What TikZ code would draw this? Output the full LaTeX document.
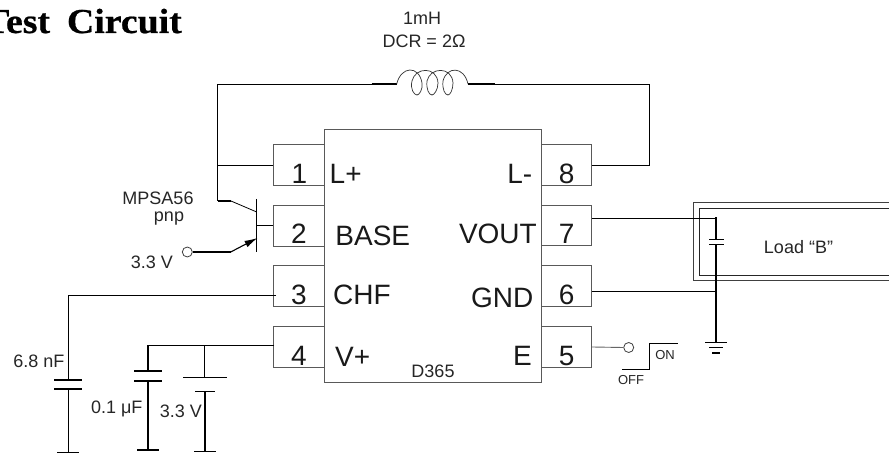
\documentclass[tikz,border=0pt]{standalone}
\usepackage{fontspec}
\setmainfont{Liberation Sans}
\newfontfamily\titlefont[FakeStretch=1.08,FakeBold=0.6]{Liberation Serif}
\usetikzlibrary{arrows.meta}
\newcommand{\fsz}[1]{\fontsize{#1}{#1}\selectfont}
\begin{document}
\begin{tikzpicture}[x=1pt,y=-1pt,line join=miter,
  wire/.style={draw=black,line width=0.8pt},
  heavy/.style={draw=black,line width=1.7pt},
  pinbox/.style={draw=black!65,line width=1pt,minimum width=50.5pt,minimum height=40.5pt,inner sep=0pt},
  chip/.style={draw=black!65,line width=1pt,inner sep=0pt,minimum width=217pt,minimum height=252pt},
  pinnum/.style={inner sep=0pt,font=\fsz{28},text=black!90},
  pinname/.style={inner sep=0pt,font=\fsz{28},text=black!90},
  lab/.style={inner sep=0pt,font=\fsz{18},text=black!85},
  tiny/.style={inner sep=0pt,font=\fsz{13},text=black!85},
  open/.style={circle,draw=black!75,line width=0.8pt,fill=white,minimum size=10pt,inner sep=0pt}]
\clip (0,0) rectangle (889,454);
\fill[white] (0,0) rectangle (889,454);

% title
\node[anchor=base east,inner sep=0pt,font=\titlefont\bfseries\fsz{35}] (title) at (182,33) {Test\hspace{7.5pt} Circuit};

% chip and pins
\node[chip] (ic) at (432.5,256) {};
\node[pinbox] (p1) at (299,165) {};
\node[pinbox] (p2) at (299,225.8) {};
\node[pinbox] (p3) at (299,286) {};
\node[pinbox] (p4) at (299,347) {};
\node[pinbox] (p8) at (566.4,165) {};
\node[pinbox] (p7) at (566.4,225.7) {};
\node[pinbox] (p6) at (566.4,286) {};
\node[pinbox] (p5) at (566.4,347) {};
\node[pinnum] (n1) at (299.3,173.7) {1};
\node[pinnum] (n2) at (299,233.5) {2};
\node[pinnum] (n3) at (299,294.5) {3};
\node[pinnum] (n4) at (299,355.5) {4};
\node[pinnum] (n8) at (566.6,173.7) {8};
\node[pinnum] (n7) at (566.6,233.7) {7};
\node[pinnum] (n6) at (566.6,294.5) {6};
\node[pinnum] (n5) at (566.6,355.8) {5};
\node[pinname,anchor=west] (lp) at (329.5,173.7) {L+};
\node[pinname,anchor=west] (base) at (335.2,236.3) {BASE};
\node[pinname,anchor=west] (chf) at (333,294.5) {CHF};
\node[pinname,anchor=west] (vp) at (335,357) {V+};
\node[pinname,anchor=east] (lm) at (532.5,173.7) {L-};
\node[pinname,anchor=east] (vout) at (537,233.7) {VOUT};
\node[pinname,anchor=east] (gnd) at (533.5,297.5) {GND};
\node[pinname,anchor=east] (en) at (532,355.7) {E};
\node[inner sep=0pt,font=\fsz{18},text=black!85] (d365) at (433,371.3) {D365};

% inductor
\coordinate (la) at (217.5,84);
\coordinate (lb) at (371.7,84);
\coordinate (lc) at (396.7,84);
\coordinate (ld) at (468,84);
\coordinate (le) at (495,84);
\coordinate (lf) at (649,84);
\draw[wire] (p1.west) -- (217.5,165);
\draw[wire] (217.5,201) -- (la) -- (lb);
\draw[heavy] (lb) -- (lc);
\draw[wire,line width=0.7pt,black!80] (lc)
  .. controls (401,66) and (419,65) .. (422,83)
  .. controls (423,90) and (419,95) .. (417,95)
  .. controls (414,95) and (410,89) .. (412,81)
  .. controls (415,67) and (437,66) .. (438,83)
  .. controls (438,90) and (434,95) .. (432,95)
  .. controls (429,95) and (426,89) .. (427,81)
  .. controls (430,67) and (452,66) .. (453,83)
  .. controls (453,90) and (450,95) .. (448,95)
  .. controls (445,95) and (442,89) .. (443,81)
  .. controls (447,66) and (464,66) .. (ld);
\draw[heavy] (ld) -- (le);
\draw[wire] (le) -- (lf) -- (649,165) -- (p8.east);
\node[lab] (lval) at (422,18) {1mH};
\node[lab] (ldcr) at (424,41) {DCR = 2Ω};

% transistor
\coordinate (cc) at (217.5,201);
\coordinate (cd) at (231,201);
\coordinate (ce) at (256.7,212);
\coordinate (bt) at (256.7,199);
\coordinate (bb) at (256.7,251.7);
\coordinate (bm) at (256.7,225.8);
\coordinate (ee) at (230.7,252);
\coordinate (ef) at (257.5,238);
\node[open] (vin) at (187.3,252) {};
\draw[heavy] (cc) -- (cd);
\draw[wire] (cd) -- (ce);
\draw[wire] (bt) -- (bb);
\draw[wire] (bm) -- (p2.west);
\draw[heavy] (vin.east) -- (ee);
\draw[wire,line width=1.1pt,-{Latex[length=13pt,width=7pt]}] (ee) -- (ef);
\node[lab] (mp) at (158,198) {MPSA56};
\node[lab] (pnp) at (169,219) {pnp};
\node[lab] (v33a) at (152,262.5) {3.3 V};

% pin 3 capacitor
\coordinate (w3a) at (276,295.3);
\coordinate (w3b) at (68.3,295.3);
\coordinate (c1a) at (68.3,380);
\coordinate (c1b) at (68.3,388.7);
\coordinate (c1c) at (68.3,452.3);
\draw[wire] (w3a) -- (w3b) -- (c1a);
\draw[heavy] (54,380) -- (81.7,380);
\draw[heavy] (54,388.7) -- (81.7,388.7);
\draw[wire] (c1b) -- (c1c);
\draw[wire] (57,452.3) -- (79,452.3);
\node[lab] (c1l) at (39,361.7) {6.8 nF};

% pin 4 capacitor and battery
\coordinate (w4a) at (274,345.3);
\coordinate (w4b) at (147.7,345.3);
\coordinate (w4c) at (204.7,345.3);
\coordinate (c2a) at (147.7,370.7);
\coordinate (c2b) at (147.7,380.7);
\coordinate (c2c) at (147.7,450);
\coordinate (b1a) at (204.7,377.3);
\coordinate (b1b) at (204.7,391.3);
\coordinate (b1c) at (204.7,451.3);
\draw[wire] (w4a) -- (w4b);
\draw[heavy] (w4b) -- (c2a);
\draw[heavy] (134,370.7) -- (162,370.7);
\draw[heavy] (134,380.7) -- (162,380.7);
\draw[heavy] (c2b) -- (c2c);
\draw[heavy] (137,450) -- (159,450);
\draw[wire] (w4c) -- (b1a);
\draw[wire] (183,377.3) -- (227,377.3);
\draw[wire] (195,391.3) -- (215,391.3);
\draw[heavy] (b1b) -- (b1c);
\draw[wire] (194,451.3) -- (216,451.3);
\node[lab] (c2l) at (116.7,409) {0.1 μF};
\node[lab] (v33b) at (181,411.7) {3.3 V};

% load
\draw[draw=black!75,line width=1pt] (895,203) -- (693.3,203) -- (693.3,280.3) -- (895,280.3);
\draw[draw=black!85,line width=1pt] (895,208.3) -- (699.3,208.3) -- (699.3,275.3) -- (895,275.3);
\node[lab] (load) at (798.5,246.7) {Load “B”};

% output network
\coordinate (g7) at (716,218.3);
\coordinate (g6) at (716,291.3);
\coordinate (k1) at (716,239.3);
\coordinate (k2) at (716,244.3);
\coordinate (gr) at (716,342.3);
\draw[wire] (592,218.3) -- (g7);
\draw[wire] (592,291.3) -- (g6);
\draw[heavy] (716,217.3) -- (k1);
\draw[wire,line width=1.1pt] (709,239.3) -- (724,239.3);
\draw[wire,line width=1.1pt] (709,244.3) -- (724,244.3);
\draw[heavy] (k2) -- (gr);
\draw[wire] (705,342.3) -- (727,342.3);
\draw[wire,line width=1.1pt] (709.3,347.7) -- (723,347.7);
\draw[heavy] (712,353) -- (720,353);

% enable switch
\node[open] (sw) at (628.7,347.5) {};
\draw[draw=black!60,line width=0.9pt] (p5.east) -- (sw.west);
\draw[wire] (622.3,369) -- (649,369) -- (649,343.7) -- (677.7,343.7);
\node[tiny] (on) at (665,355.5) {ON};
\node[tiny] (off) at (631,380) {OFF};
\end{tikzpicture}
\end{document}
